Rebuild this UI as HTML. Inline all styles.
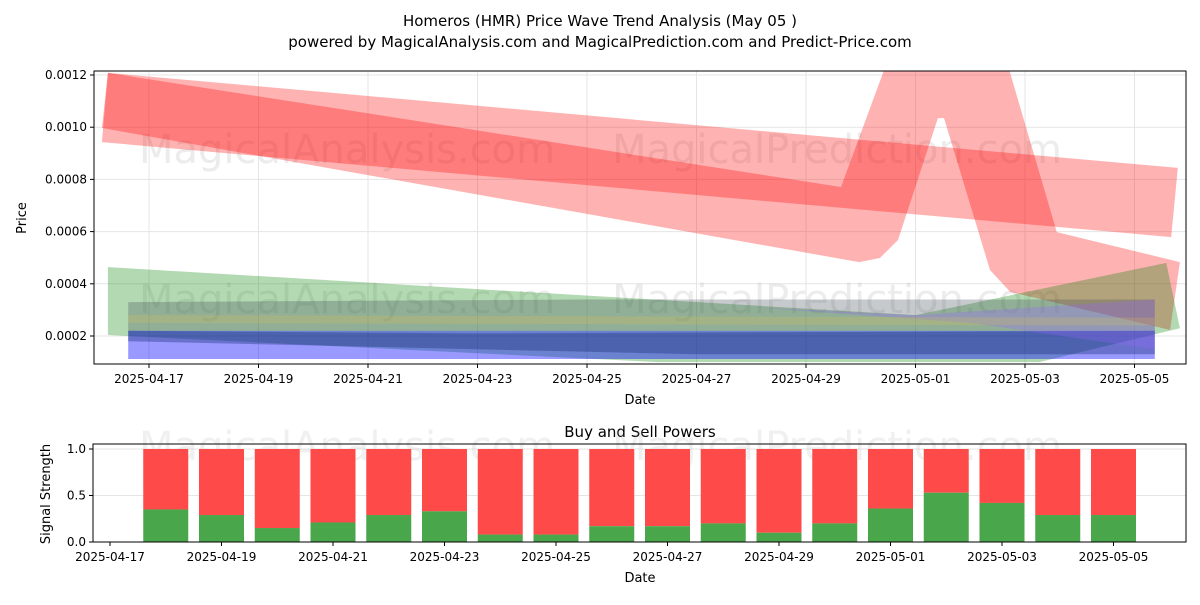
<!DOCTYPE html>
<html><head><meta charset="utf-8"><style>
body{margin:0;background:#fff;font-family:"Liberation Sans","DejaVu Sans",sans-serif}
svg text{font-family:"DejaVu Sans","Liberation Sans",sans-serif}
</style></head><body>
<svg id="chart" width="1200" height="600" viewBox="0 0 1200 600" xmlns="http://www.w3.org/2000/svg">
<rect width="1200" height="600" fill="#fff"/>
<text x="600" y="26" text-anchor="middle" font-size="15">Homeros (HMR) Price Wave Trend Analysis (May 05 )</text>
<text x="600" y="47" text-anchor="middle" font-size="15">powered by MagicalAnalysis.com and MagicalPrediction.com and Predict-Price.com</text>
<defs>
<clipPath id="c1"><rect x="94" y="71" width="1092" height="293"/></clipPath>
<clipPath id="c2"><rect x="93" y="444" width="1093" height="98"/></clipPath>
</defs>
<g id="topPanel"></g>
<g id="botPanel"></g>
</svg>
<script>
// ---- top chart data (day offsets from 2025-04-17, price) ----
const bandNames = ['red-band-a','red-band-b','green-band','blue-band','gray-band','navy-band','purple-band','yellow-band'];
const bandColors = ['rgba(255,0,0,0.3)','rgba(255,0,0,0.3)','rgba(0,128,0,0.3)','rgba(0,0,255,0.4)','rgba(70,80,90,0.3)','rgba(20,40,110,0.35)','rgba(150,100,255,0.3)','rgba(220,190,80,0.25)'];
const bandDays = [
 [-0.75,18.79,18.67,-0.86],
 [-0.75,12.64,13.48,15.67,16.58,18.83,18.65,15.73,15.36,14.52,14.41,13.68,13.35,12.97,-0.86],
 [-0.75,14.0,18.58,18.83,16.26,9.3,-0.75],
 [-0.38,18.37,18.37,-0.38],
 [-0.38,8,18.37,18.37,-0.38],
 [-0.38,6,18.37,18.37,10,-0.38],
 [11,14,18.37,18.37,15],
 [-0.38,18.37,18.37,-0.38]
];
const bandPrices = [
 [0.001208,0.000844,0.000579,0.000943],
 [0.001208,0.000771,0.00125,0.00125,0.000598,0.000483,0.000223,0.000369,0.000453,0.001035,0.001035,0.000568,0.000499,0.000483,0.000997],
 [0.000464,0.00028,0.00048,0.00023,0.0001,0.0001,0.000204],
 [0.00022,0.00022,0.000112,0.000112],
 [0.00033,0.00034,0.00034,0.00022,0.00022],
 [0.00022,0.00021,0.00022,0.00013,0.00013,0.00018],
 [0.00031,0.00028,0.00034,0.00015,0.00025],
 [0.00028,0.00027,0.00024,0.00025]
];
const topTickLabels = ['2025-04-17','2025-04-19','2025-04-21','2025-04-23','2025-04-25','2025-04-27','2025-04-29','2025-05-01','2025-05-03','2025-05-05'];
const topTickDays = [0,2,4,6,8,10,12,14,16,18];
const priceTicks = [0.0002,0.0004,0.0006,0.0008,0.0010,0.0012];
const priceTickLabels = ['0.0002','0.0004','0.0006','0.0008','0.0010','0.0012'];
// ---- bottom chart data ----
const barDays = [1,2,3,4,5,6,7,8,9,10,11,12,13,14,15,16,17,18];
const buyValues = [0.35,0.29,0.15,0.21,0.29,0.33,0.08,0.08,0.17,0.17,0.2,0.1,0.2,0.36,0.53,0.42,0.29,0.29];
const botTickLabels = ['2025-04-17','2025-04-19','2025-04-21','2025-04-23','2025-04-25','2025-04-27','2025-04-29','2025-05-01','2025-05-03','2025-05-05'];
const botTickDays = [0,2,4,6,8,10,12,14,16,18];
const signalTicks = [0,0.5,1.0];
const signalTickLabels = ['0.0','0.5','1.0'];

const NS='http://www.w3.org/2000/svg';
function mk(p,t,a,txt){const e=document.createElementNS(NS,t);for(const k in a)e.setAttribute(k,a[k]);if(txt!==undefined)e.textContent=txt;p.appendChild(e);return e;}
const xT=d=>149+d*54.75, yT=v=>336-(v-0.0002)/0.0002*52.2;
const xB=d=>110+d*55.75, yB=v=>542-v*93;
const topG=document.getElementById('topPanel'), botG=document.getElementById('botPanel');

// top grid
topTickDays.forEach((d,i)=>{
 const l=mk(topG,'line',{x1:xT(d),x2:xT(d),y1:71,y2:364,stroke:'#e5e5e5','stroke-width':1});
 
 
});
priceTicks.forEach(v=>{
 const l=mk(topG,'line',{x1:94,x2:1186,y1:yT(v),y2:yT(v),stroke:'#e5e5e5','stroke-width':1});
 
 
});
const wm1=mk(topG,'text',{x:347,y:163,'font-size':40,fill:'rgba(180,180,180,0.25)','text-anchor':'middle'},'MagicalAnalysis.com');


const wm2=mk(topG,'text',{x:837,y:163,'font-size':40,fill:'rgba(180,180,180,0.25)','text-anchor':'middle'},'MagicalPrediction.com');


const wm3=mk(topG,'text',{x:347,y:313,'font-size':40,fill:'rgba(180,180,180,0.25)','text-anchor':'middle'},'MagicalAnalysis.com');


const wm4=mk(topG,'text',{x:837,y:313,'font-size':40,fill:'rgba(180,180,180,0.25)','text-anchor':'middle'},'MagicalPrediction.com');


const g=mk(topG,'g',{'clip-path':'url(#c1)'});


bandDays.forEach((ds,i)=>{
 const pts=ds.map((d,j)=>xT(d).toFixed(1)+','+yT(bandPrices[i][j]).toFixed(1)).join(' ');
 const p=mk(g,'polygon',{points:pts,fill:bandColors[i]});
 
 
});
const f1=mk(topG,'rect',{x:94,y:71,width:1092,height:293,fill:'none',stroke:'#000','stroke-width':1});


topTickDays.forEach((d,i)=>{
 mk(topG,'line',{x1:xT(d),x2:xT(d),y1:364,y2:368,stroke:'#000'});
 const t=mk(topG,'text',{x:xT(d),y:383,'font-size':12,'text-anchor':'middle'},topTickLabels[i]);
 
 
});
priceTicks.forEach((v,i)=>{
 mk(topG,'line',{x1:90,x2:94,y1:yT(v),y2:yT(v),stroke:'#000'});
 const t=mk(topG,'text',{x:87,y:yT(v)+4,'font-size':12,'text-anchor':'end'},priceTickLabels[i]);
 
 
});
const xt=mk(topG,'text',{x:640,y:404,'font-size':13,'text-anchor':'middle'},'Date');


const yt=mk(topG,'text',{x:26,y:218,'font-size':13,'text-anchor':'middle',transform:'rotate(-90 26 218)'},'Price');



// bottom
const bt=mk(botG,'text',{x:640,y:437,'font-size':15,'text-anchor':'middle'},'Buy and Sell Powers');


signalTicks.forEach(v=>{
 const l=mk(botG,'line',{x1:93,x2:1186,y1:yB(v),y2:yB(v),stroke:'#e5e5e5'});
 
 
});
const wm5=mk(botG,'text',{x:347,y:460,'font-size':40,fill:'rgba(180,180,180,0.2)','text-anchor':'middle'},'MagicalAnalysis.com');


const wm6=mk(botG,'text',{x:837,y:460,'font-size':40,fill:'rgba(180,180,180,0.2)','text-anchor':'middle'},'MagicalPrediction.com');


barDays.forEach((d,i)=>{
 const x=xB(d)-22.5, b=buyValues[i];
 const s=mk(botG,'rect',{x:x,y:yB(1),width:45,height:yB(b)-yB(1),fill:'#ff4a4a'});
 
 
 const r=mk(botG,'rect',{x:x,y:yB(b),width:45,height:yB(0)-yB(b),fill:'#4aa64a'});
 
 
});
const f2=mk(botG,'rect',{x:93,y:444,width:1093,height:98,fill:'none',stroke:'#000'});


botTickDays.forEach((d,i)=>{
 mk(botG,'line',{x1:xB(d),x2:xB(d),y1:542,y2:546,stroke:'#000'});
 const t=mk(botG,'text',{x:xB(d),y:561,'font-size':12,'text-anchor':'middle'},botTickLabels[i]);
 
 
});
signalTicks.forEach((v,i)=>{
 mk(botG,'line',{x1:89,x2:93,y1:yB(v),y2:yB(v),stroke:'#000'});
 const t=mk(botG,'text',{x:86,y:yB(v)+4,'font-size':12,'text-anchor':'end'},signalTickLabels[i]);
 
 
});
const xt2=mk(botG,'text',{x:640,y:582,'font-size':13,'text-anchor':'middle'},'Date');


const yt2=mk(botG,'text',{x:50,y:494,'font-size':13,'text-anchor':'middle',transform:'rotate(-90 50 494)'},'Signal Strength');


</script>
</body></html>
